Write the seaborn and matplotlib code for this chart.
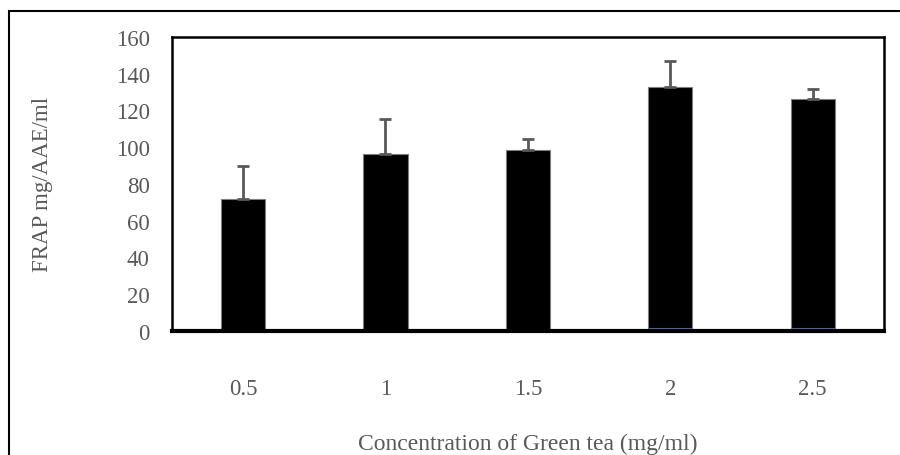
import matplotlib
matplotlib.use('Agg')
import matplotlib.pyplot as plt
import seaborn as sns
import pandas as pd
from matplotlib.patches import Rectangle

# values
concentrations = ['0.5', '1', '1.5', '2', '2.5']
frap = [72, 96.5, 98.5, 132.5, 126]
frap_err = [17.5, 19, 6, 14.5, 5.5]
minor_series = [0, 0, 0.6, 1.4, 1.8]

df = pd.DataFrame({'conc': concentrations, 'frap': frap, 'minor': minor_series})

sns.set_style('white')
plt.rcParams['font.family'] = ['Liberation Serif', 'DejaVu Serif']

fig = plt.figure(figsize=(9, 4.56), dpi=100)
ax = fig.add_axes([0.191, 0.272, 0.791, 0.645])

sns.barplot(x='conc', y='frap', data=df, color='black', edgecolor='#7f7f7f',
            linewidth=0.8, width=0.31, saturation=1, ax=ax)
sns.barplot(x='conc', y='minor', data=df, color='#4472C4', linewidth=0,
            width=0.31, saturation=1, ax=ax)

# plus error bars
centers = [p.get_x() + p.get_width() / 2 for p in ax.patches[:len(frap)]]
ax.errorbar(centers, frap, yerr=[[0] * len(frap), frap_err], fmt='none',
            ecolor='#595959', elinewidth=2, capsize=4.2, capthick=2, zorder=5)

ax.set_ylim(0, 160)
ax.set_yticks(range(0, 161, 20))
ax.set_xlim(-0.5, 4.5)
ax.tick_params(axis='both', length=0, labelsize=16.5, labelcolor='#595959')
ax.tick_params(axis='x', pad=34)
ax.tick_params(axis='y', pad=16)

ax.set_xlabel('Concentration of Green tea (mg/ml)', fontsize=17, color='#595959', labelpad=24)
ax.set_ylabel('FRAP mg/AAE/ml', fontsize=16.5, color='#595959', labelpad=45)

for side in ['left', 'top', 'right']:
    ax.spines[side].set_visible(True)
    ax.spines[side].set_color('black')
    ax.spines[side].set_linewidth(1.8)
ax.spines['bottom'].set_color('black')
ax.spines['bottom'].set_linewidth(3)

# outer frame of the chart area
fig.patches.append(Rectangle((0.01, -0.1), 1.2, 1.074, transform=fig.transFigure,
                             fill=False, edgecolor='black', linewidth=1.5))

fig.savefig('out.png', dpi=100)
